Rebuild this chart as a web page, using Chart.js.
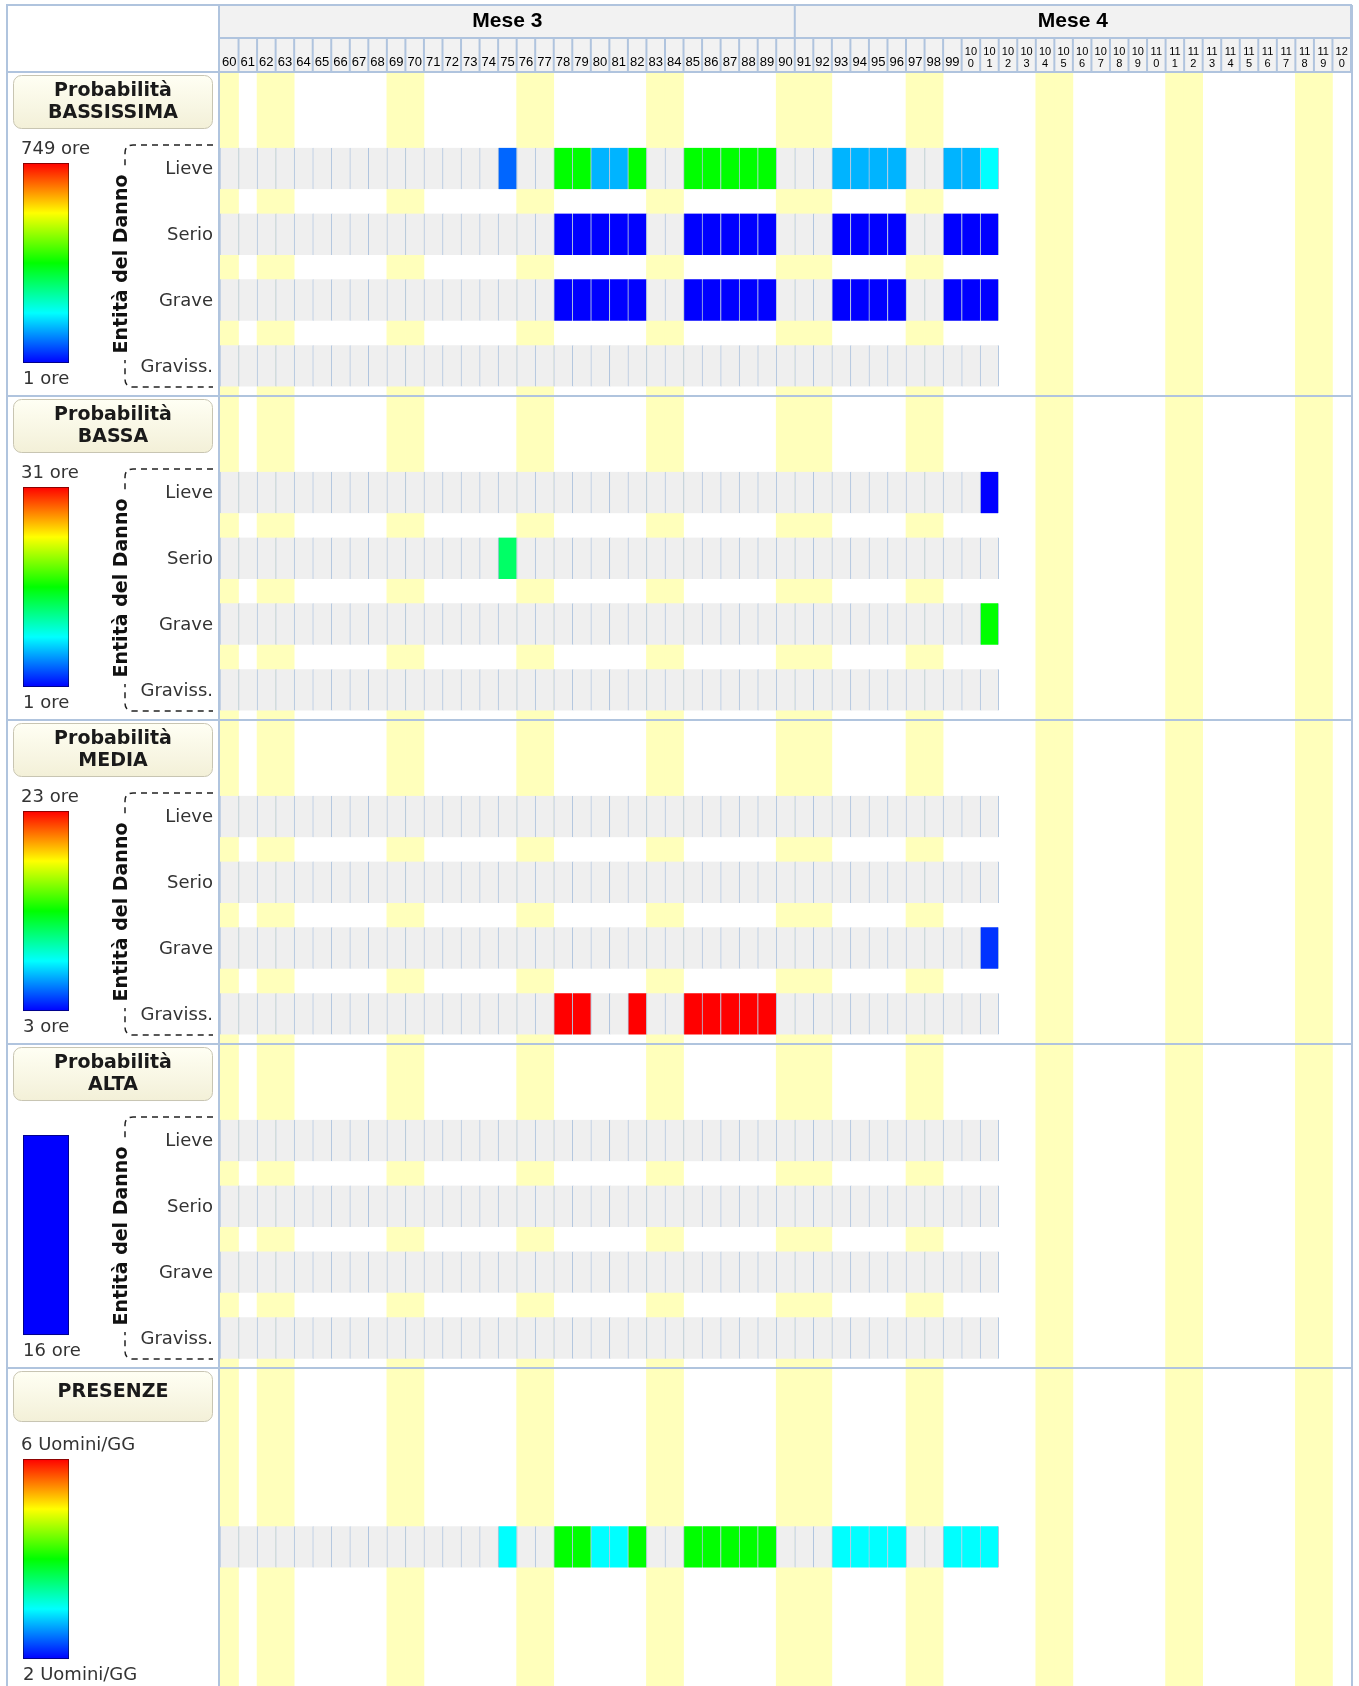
<!DOCTYPE html>
<html>
<head>
<meta charset="utf-8">
<title>Mappa probabilità / entità del danno</title>
<script src="https://cdn.jsdelivr.net/npm/chart.js@4.4.1/dist/chart.umd.min.js"></script>
<style>
  html, body { margin: 0; padding: 0; background: #fff; }
  #wrap { width: 1359px; height: 1686px; position: relative; }
</style>
</head>
<body>
<div id="wrap"><canvas id="grid" width="1359" height="1686"></canvas></div>
<script>
// giorni (colonne)
const days = ['60','61','62','63','64','65','66','67','68','69','70','71','72','73','74','75','76','77','78','79',
  '80','81','82','83','84','85','86','87','88','89','90','91','92','93','94','95','96','97','98','99',
  '100','101','102','103','104','105','106','107','108','109','110','111','112','113','114','115','116','117','118','119','120'];
// festivi evidenziati in giallo
const holidays = ['60','62','63','69','70','76','77','83','84','90','91','92','97','98','104','105','111','112','118','119'];
const monthLabels = ['Mese 3', 'Mese 4'];
const monthDays = [31, 30];

const damageLevels = ['Lieve', 'Serio', 'Grave', 'Graviss.'];
const sectionTitles = [['Probabilità', 'BASSISSIMA'], ['Probabilità', 'BASSA'], ['Probabilità', 'MEDIA'], ['Probabilità', 'ALTA'], ['PRESENZE']];
const scaleMin = [1, 1, 3, 16, 2];
const scaleMax = [749, 31, 23, 16, 6];
const legendTop = ['749 ore', '31 ore', '23 ore', '', '6 Uomini/GG'];
const legendBottom = ['1 ore', '1 ore', '3 ore', '16 ore', '2 Uomini/GG'];

// valori per i giorni 60..101 (null = nessun valore)
const bassissimaLieve = [
  null,null,null,null,null,null,null,null,null,null,
  null,null,null,null,null,76,null,null,375,375,
  133,133,375,null,null,375,375,375,375,375,
  null,null,null,133,133,133,133,null,null,133,
  133,188];
const bassissimaSerio = [
  null,null,null,null,null,null,null,null,null,null,
  null,null,null,null,null,null,null,null,1,1,
  1,1,1,null,null,1,1,1,1,1,
  null,null,null,1,1,1,1,null,null,1,
  1,1];
const bassissimaGrave = [
  null,null,null,null,null,null,null,null,null,null,
  null,null,null,null,null,null,null,null,1,1,
  1,1,1,null,null,1,1,1,1,1,
  null,null,null,1,1,1,1,null,null,1,
  1,1];
const bassaLieve = [
  null,null,null,null,null,null,null,null,null,null,
  null,null,null,null,null,null,null,null,null,null,
  null,null,null,null,null,null,null,null,null,null,
  null,null,null,null,null,null,null,null,null,null,
  null,1];
const bassaSerio = [
  null,null,null,null,null,null,null,null,null,null,
  null,null,null,null,null,13,null,null,null,null,
  null,null,null,null,null,null,null,null,null,null,
  null,null,null,null,null,null,null,null,null,null,
  null,null];
const bassaGrave = [
  null,null,null,null,null,null,null,null,null,null,
  null,null,null,null,null,null,null,null,null,null,
  null,null,null,null,null,null,null,null,null,null,
  null,null,null,null,null,null,null,null,null,null,
  null,16];
const mediaGrave = [
  null,null,null,null,null,null,null,null,null,null,
  null,null,null,null,null,null,null,null,null,null,
  null,null,null,null,null,null,null,null,null,null,
  null,null,null,null,null,null,null,null,null,null,
  null,4];
const mediaGraviss = [
  null,null,null,null,null,null,null,null,null,null,
  null,null,null,null,null,null,null,null,23,23,
  null,null,23,null,null,23,23,23,23,23,
  null,null,null,null,null,null,null,null,null,null,
  null,null];
const presenze = [
  null,null,null,null,null,null,null,null,null,null,
  null,null,null,null,null,3,null,null,4,4,
  3,3,4,null,null,4,4,4,4,4,
  null,null,null,3,3,3,3,null,null,3,
  3,3];
const emptyRow = () => Array(42).fill(null);

const sectionRows = [
  [bassissimaLieve, bassissimaSerio, bassissimaGrave, emptyRow()],
  [bassaLieve, bassaSerio, bassaGrave, emptyRow()],
  [emptyRow(), emptyRow(), mediaGrave, mediaGraviss],
  [emptyRow(), emptyRow(), emptyRow(), emptyRow()],
  [presenze]
];

const CELL_EMPTY = '#efefef';
const GRID_LINE = '#b0c4de';
const HOLIDAY = '#ffffbb';
const Y_MAX = 24.907;     // unità di riga visibili
const ROW_HALF = 0.32;

const stops = [[0, 0, 255], [0, 255, 255], [0, 255, 0], [255, 255, 0], [255, 0, 0]];
function heat(v, lo, hi) {
  let t = hi > lo ? (v - lo) / (hi - lo) : 0;
  t = Math.max(0, Math.min(1, t)) * 4;
  const i = Math.min(3, Math.floor(t)), f = t - i;
  const c = stops[i].map((a, k) => Math.round(a + (stops[i + 1][k] - a) * f));
  return `rgb(${c[0]},${c[1]},${c[2]})`;
}
function rowCenter(s, r) {
  return s === 4 ? 22.76 : s * 5 + 1.49 + r * 1.015;
}

const datasets = [];
sectionRows.forEach((rows, s) => {
  rows.forEach((vals, r) => {
    const c = rowCenter(s, r);
    datasets.push({
      label: sectionTitles[s].join(' ') + (s < 4 ? ' - ' + damageLevels[r] : ''),
      data: vals.map(() => [c - ROW_HALF, c + ROW_HALF]),
      backgroundColor: vals.map(v => v == null ? CELL_EMPTY : heat(v, scaleMin[s], scaleMax[s])),
      borderColor: GRID_LINE,
      borderWidth: ctx => ({ left: 1, right: ctx.dataIndex === vals.length - 1 ? 1 : 0, top: 0, bottom: 0 }),
      borderSkipped: false,
      grouped: false,
      barPercentage: 1,
      categoryPercentage: 1,
      order: 1
    });
  });
});
datasets.push({
  label: 'Festivi',
  data: days.map(d => holidays.includes(d) ? [0, Y_MAX] : null),
  backgroundColor: HOLIDAY,
  borderWidth: 0,
  grouped: false,
  barPercentage: 1,
  categoryPercentage: 1,
  order: 2
});

function line(ctx, x0, y0, x1, y1) {
  ctx.beginPath();
  ctx.moveTo(x0, y0);
  ctx.lineTo(x1, y1);
  ctx.stroke();
}

const framePlugin = {
  id: 'frame',
  afterDraw(chart) {
    const { ctx, chartArea: a, scales: { x, y } } = chart;
    const colW = a.width / days.length;
    const L = 7, R = a.right + 1, T = 5;
    ctx.save();

    // intestazione
    ctx.fillStyle = '#f2f2f2';
    ctx.fillRect(a.left, T, a.width, a.top - T);
    ctx.strokeStyle = GRID_LINE;
    ctx.lineWidth = 2;
    ctx.fillStyle = '#000';
    ctx.textAlign = 'center';
    ctx.textBaseline = 'middle';
    let start = 0;
    monthLabels.forEach((m, i) => {
      const x0 = a.left + start * colW, x1 = x0 + monthDays[i] * colW;
      ctx.font = 'bold 21px "Liberation Sans", Arial, sans-serif';
      ctx.fillText(m, (x0 + x1) / 2, 21);
      line(ctx, x1, T, x1, 38);
      start += monthDays[i];
    });
    days.forEach((d, i) => {
      const cx = x.getPixelForValue(i);
      if (d.length > 2) {
        ctx.font = '11px "Liberation Sans", Arial, sans-serif';
        ctx.fillText(d.slice(0, 2), cx, 52);
        ctx.fillText(d.slice(2), cx, 64);
      } else {
        ctx.font = '13px "Liberation Sans", Arial, sans-serif';
        ctx.fillText(d, cx, 62);
      }
      line(ctx, cx + colW / 2, 38, cx + colW / 2, a.top);
    });
    line(ctx, a.left, 38, R, 38);

    // cornice e separatori
    line(ctx, L - 1, T, R, T);
    line(ctx, L, T, L, chart.height);
    line(ctx, a.left - 1, T, a.left - 1, chart.height);
    line(ctx, R, T, R, chart.height);
    line(ctx, L, a.top, R, a.top);
    for (let s = 1; s < 5; s++) {
      const yy = y.getPixelForValue(s * 5);
      line(ctx, L, yy, R, yy);
    }

    // pannello di sinistra
    sectionTitles.forEach((title, s) => {
      const top = y.getPixelForValue(s * 5);
      const single = title.length === 1;
      const bh = single ? 50 : 53;
      const g = ctx.createLinearGradient(0, top + 3, 0, top + 3 + bh);
      g.addColorStop(0, '#fffff4');
      g.addColorStop(1, '#f3f0d8');
      ctx.beginPath();
      ctx.roundRect(13.5, top + 3.5, 199, bh, 8);
      ctx.fillStyle = g;
      ctx.fill();
      ctx.strokeStyle = '#c8c5b2';
      ctx.lineWidth = 1;
      ctx.stroke();
      ctx.fillStyle = '#1a1a1a';
      ctx.textAlign = 'center';
      ctx.textBaseline = 'middle';
      ctx.font = 'bold 19px "DejaVu Sans", Verdana, sans-serif';
      if (single) {
        ctx.fillText(title[0], 113, top + 24);
      } else {
        ctx.fillText(title[0], 113, top + 19);
        ctx.fillText(title[1], 113, top + 41);
      }

      // legenda colori
      ctx.font = '18px "DejaVu Sans", Verdana, sans-serif';
      ctx.fillStyle = '#333';
      ctx.textAlign = 'left';
      if (legendTop[s]) ctx.fillText(legendTop[s], 21, top + 77);
      ctx.fillText(legendBottom[s], 23, top + 307);
      let fill;
      if (scaleMax[s] > scaleMin[s]) {
        fill = ctx.createLinearGradient(0, top + 91, 0, top + 291);
        fill.addColorStop(0, '#ff0000');
        fill.addColorStop(0.25, '#ffff00');
        fill.addColorStop(0.5, '#00ff00');
        fill.addColorStop(0.75, '#00ffff');
        fill.addColorStop(1, '#0000ff');
      } else {
        fill = heat(scaleMin[s], scaleMin[s], scaleMax[s]);
      }
      ctx.fillStyle = fill;
      ctx.fillRect(23, top + 91, 46, 200);
      ctx.strokeStyle = 'rgba(0,0,0,0.45)';
      ctx.strokeRect(23.5, top + 91.5, 45, 199);

      if (s < 4) {
        // parentesi tratteggiata
        ctx.strokeStyle = '#222';
        ctx.lineWidth = 1.5;
        ctx.setLineDash([6, 5]);
        ctx.beginPath();
        ctx.moveTo(213, top + 73);
        ctx.lineTo(133, top + 73);
        ctx.quadraticCurveTo(125, top + 73, 125, top + 81);
        ctx.lineTo(125, top + 307);
        ctx.quadraticCurveTo(125, top + 315, 133, top + 315);
        ctx.lineTo(213, top + 315);
        ctx.stroke();
        ctx.setLineDash([]);

        ctx.save();
        ctx.translate(121, top + 192);
        ctx.rotate(-Math.PI / 2);
        ctx.fillStyle = '#fff';
        ctx.fillRect(-96, -13, 192, 26);
        ctx.fillStyle = '#111';
        ctx.textAlign = 'center';
        ctx.textBaseline = 'middle';
        ctx.font = 'bold 19px "DejaVu Sans", Verdana, sans-serif';
        ctx.fillText('Entità del Danno', 0, 1);
        ctx.restore();

        // etichette righe
        ctx.font = '18px "DejaVu Sans", Verdana, sans-serif';
        ctx.fillStyle = '#333';
        ctx.textAlign = 'right';
        damageLevels.forEach((lvl, r) => {
          ctx.fillText(lvl, 213, y.getPixelForValue(rowCenter(s, r)) + 1);
        });
      }
    });
    ctx.restore();
  }
};

new Chart(document.getElementById('grid').getContext('2d'), {
  type: 'bar',
  data: { labels: days, datasets: datasets },
  options: {
    responsive: false,
    animation: false,
    layout: { padding: { left: 220, top: 72, right: 8, bottom: 0 } },
    scales: {
      x: { type: 'category', offset: true, display: false },
      y: { type: 'linear', min: 0, max: Y_MAX, reverse: true, display: false }
    },
    plugins: { legend: { display: false }, tooltip: { enabled: false } }
  },
  plugins: [framePlugin]
});
</script>
</body>
</html>
